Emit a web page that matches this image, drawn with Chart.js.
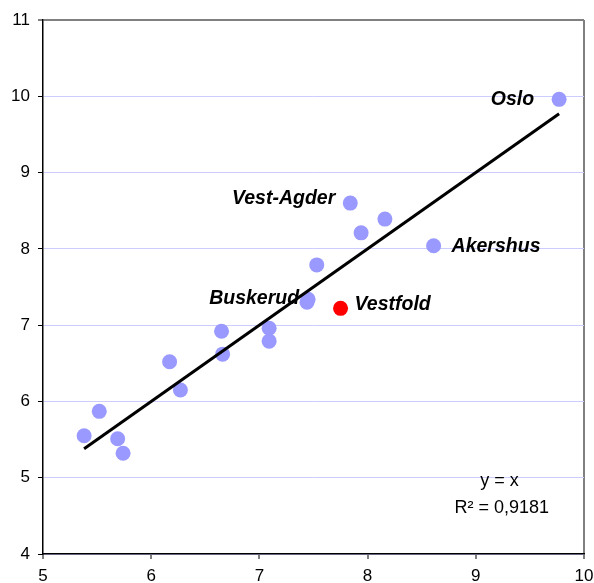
<!DOCTYPE html>
<html>
<head>
<meta charset="utf-8">
<script src="https://cdn.jsdelivr.net/npm/chart.js@4/dist/chart.umd.min.js"></script>
<style>
  html, body { margin: 0; padding: 0; background: #fff; }
  #wrap { width: 594px; height: 583px; }
</style>
</head>
<body>
<div id="wrap"><canvas id="fylkeChart"></canvas></div>
<script>
// counties, x and y values
const xValues = [5.38, 5.52, 5.69, 5.74, 6.17, 6.27, 6.65, 6.66, 7.09, 7.09, 7.44, 7.45, 7.53, 7.84, 7.94, 8.16, 8.61, 9.77];
const yValues = [5.55, 5.87, 5.51, 5.32, 6.52, 6.15, 6.92, 6.62, 6.96, 6.79, 7.30, 7.34, 7.79, 8.60, 8.21, 8.39, 8.04, 9.96];
const pointNames = ['', '', '', '', '', '', '', '', '', '', '', 'Buskerud', '', 'Vest-Agder', '', '', 'Akershus', 'Oslo'];

const vestfoldX = [7.75];
const vestfoldY = [7.22];
const vestfoldName = 'Vestfold';

const xTicks = [5, 6, 7, 8, 9, 10];
const yTicks = [4, 5, 6, 7, 8, 9, 10, 11];
const trendText = ['y = x', 'R² = 0,9181'];

document.addEventListener('DOMContentLoaded', function () {
    const ctx = document.getElementById('fylkeChart').getContext('2d');

    const points = xValues.map((x, i) => ({ x: x, y: yValues[i], name: pointNames[i] }));
    const redPoints = vestfoldX.map((x, i) => ({ x: x, y: vestfoldY[i], name: vestfoldName }));

    // trend line y = x across the data range
    const minX = Math.min(...xValues);
    const maxX = Math.max(...xValues);
    const trend = [{ x: minX, y: minX }, { x: maxX, y: maxX }];

    // where each name sits relative to its point
    const labelOffsets = {
        'Oslo': { dx: -25, dy: 0, align: 'right' },
        'Vest-Agder': { dx: -15, dy: -4, align: 'right' },
        'Akershus': { dx: 18, dy: 1, align: 'left' },
        'Buskerud': { dx: -9, dy: -1, align: 'right' },
        'Vestfold': { dx: 14, dy: -4, align: 'left' }
    };

    const pointLabels = {
        id: 'pointLabels',
        afterDatasetsDraw(chart) {
            const c = chart.ctx;
            c.save();
            c.font = 'italic bold 19.5px "Liberation Sans", Arial, sans-serif';
            c.fillStyle = '#000';
            c.textBaseline = 'middle';
            [0, 1].forEach(di => {
                const meta = chart.getDatasetMeta(di);
                chart.data.datasets[di].data.forEach((p, i) => {
                    if (!p.name) return;
                    const o = labelOffsets[p.name];
                    const el = meta.data[i];
                    c.textAlign = o.align;
                    c.fillText(p.name, el.x + o.dx, el.y + o.dy);
                });
            });

            // regression text
            const xs = chart.scales.x, ys = chart.scales.y;
            c.font = '18px "Liberation Sans", Arial, sans-serif';
            c.textAlign = 'center';
            c.fillText(trendText[0], xs.getPixelForValue(9.22), ys.getPixelForValue(4.96));
            c.fillText(trendText[1], xs.getPixelForValue(9.24), ys.getPixelForValue(4.6));
            c.restore();
        }
    };

    new Chart(ctx, {
        type: 'scatter',
        data: {
            datasets: [{
                data: points,
                backgroundColor: '#9999ff',
                borderWidth: 0,
                pointRadius: 7.5,
                order: 2
            }, {
                data: redPoints,
                backgroundColor: '#ff0000',
                borderWidth: 0,
                pointRadius: 7.5,
                order: 1
            }, {
                type: 'line',
                data: trend,
                borderColor: '#000',
                borderWidth: 3,
                pointRadius: 0,
                fill: false,
                order: 0
            }]
        },
        options: {
            responsive: true,
            maintainAspectRatio: false,
            animation: false,
            events: [],
            layout: { padding: { top: 20, right: 10, left: 0, bottom: 0 } },
            plugins: {
                legend: { display: false },
                tooltip: { enabled: false }
            },
            scales: {
                x: {
                    type: 'linear',
                    min: 5,
                    max: 10,
                    afterBuildTicks: axis => { axis.ticks = xTicks.map(v => ({ value: v })); },
                    afterFit: axis => {
                        axis.height = 29;
                        axis.paddingLeft = 0;
                        axis.paddingRight = 0;
                    },
                    ticks: {
                        color: '#000',
                        font: { family: '"Liberation Sans", Arial, sans-serif', size: 17 },
                        padding: 7,
                        maxRotation: 0
                    },
                    grid: {
                        color: c => c.tick && c.tick.value === 10 ? '#808080' : 'rgba(0,0,0,0)',
                        lineWidth: 2,
                        tickColor: '#000',
                        tickLength: 5,
                        tickWidth: 1
                    },
                    border: { color: '#000', width: 1.5 }
                },
                y: {
                    type: 'linear',
                    min: 4,
                    max: 11,
                    afterBuildTicks: axis => { axis.ticks = yTicks.map(v => ({ value: v })); },
                    afterFit: axis => {
                        axis.width = 43;
                        axis.paddingTop = 0;
                        axis.paddingBottom = 0;
                    },
                    ticks: {
                        color: '#000',
                        font: { family: '"Liberation Sans", Arial, sans-serif', size: 17 },
                        padding: 8
                    },
                    grid: {
                        color: c => c.tick && c.tick.value === 11 ? '#808080' : '#ccccff',
                        lineWidth: c => c.tick && c.tick.value === 11 ? 2 : 1,
                        tickColor: '#000',
                        tickLength: 5,
                        tickWidth: 1
                    },
                    border: { color: '#000', width: 1.5 }
                }
            }
        },
        plugins: [pointLabels]
    });
});
</script>
</body>
</html>
